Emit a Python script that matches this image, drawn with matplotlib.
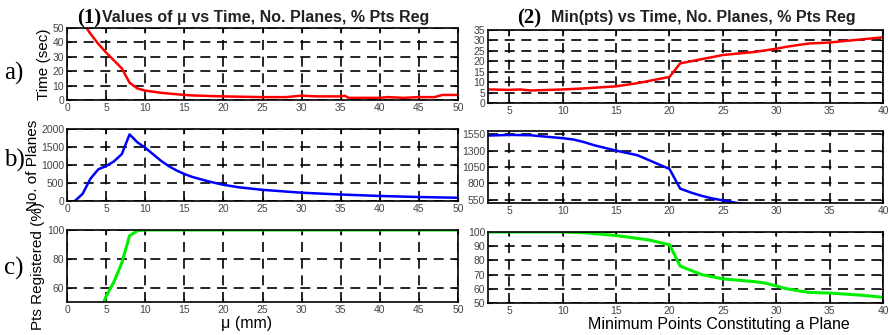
import matplotlib
matplotlib.use('Agg')
import matplotlib.pyplot as plt

plt.rcParams['font.family'] = ['Liberation Sans', 'DejaVu Sans']

# (1) mu 对比
mu = [2, 3, 4, 5, 6, 7, 8, 9, 10, 11, 12, 13, 14, 15, 16, 17, 18, 20, 22, 25, 28, 29, 30, 32, 35,
      35.5, 36, 38, 40, 41, 43, 45, 47, 48, 50]
mu_time = [54, 46, 39, 33, 27.5, 22, 12, 8, 6.5, 5.8, 5, 4.5, 4, 3.5, 3.2, 3, 2.8, 2.5, 2.3, 2, 2, 2.5, 3,
           2.5, 2.5, 3, 1.5, 1.5, 1.5, 2, 1.5, 2, 2, 3.5, 3.5]
mu_b = [1, 2, 3, 4, 5, 6, 7, 8, 9, 10, 11, 12, 13, 14, 15, 16, 17, 18, 20, 22, 25, 30, 35, 40, 45, 50]
mu_planes = [0, 200, 620, 880, 970, 1100, 1300, 1850, 1630, 1480, 1300, 1120, 970, 850, 750, 670,
             610, 550, 450, 380, 310, 230, 180, 140, 110, 90]
mu_c = [4, 5, 6, 7, 8, 9, 10, 15, 20, 30, 40, 50]
mu_reg = [40, 54, 64, 77, 96, 99.5, 100, 100, 100, 100, 100, 100]

# (2) min(pts) 对比
mp = [3, 5, 6, 7, 10, 12, 15, 17, 18, 20, 21, 22, 25, 28, 30, 31, 33, 35, 38, 40]
mp_time = [6.5, 6.3, 6.5, 6, 6.5, 7, 8, 9.5, 10.5, 12.5, 19, 20, 23, 24.5, 26, 27, 28.5, 29, 30.5, 31.5]
mp_b = [3, 5, 7, 10, 11, 12, 13, 15, 17, 20, 21, 22, 23, 24, 25, 26, 27]
mp_planes = [1530, 1540, 1535, 1490, 1470, 1430, 1380, 1300, 1230, 1020, 720, 660, 610, 570, 540,
             510, 480]
mp_c = [3, 10, 12, 15, 18, 20, 21, 23, 25, 28, 29, 30, 31, 33, 35, 38, 40]
mp_reg = [100, 100, 99.5, 97.5, 94.5, 91, 76, 70, 67, 65, 64, 62, 60, 57.5, 57, 55.5, 54]

W, H = 888, 335
fig = plt.figure(figsize=(W / 100, H / 100), dpi=100)


def box(x0, y0, x1, y1):
    return [x0 / W, 1 - y1 / H, (x1 - x0) / W, (y1 - y0) / H]


def style(ax, xlim, xt, ylim, yt):
    ax.set_xlim(xlim)
    ax.set_ylim(ylim)
    ax.set_xticks(xt)
    ax.set_yticks(yt)
    ax.grid(True, color='black', linestyle=(0, (6, 4)), linewidth=1.2)
    ax.tick_params(direction='in', length=3, top=True, right=True, labelsize=7.5,
                   labelcolor='#444444', pad=2, width=0.8)
    for s in ax.spines.values():
        s.set_linewidth(1.2)


lw = 1.8
# 左列
axa = fig.add_axes(box(67, 28, 458, 100))
axa.plot(mu, mu_time, color='red', lw=lw)
style(axa, (0, 50), range(0, 51, 5), (0, 50), range(0, 51, 10))
axa.set_ylabel('Time (sec)', fontsize=11, labelpad=1)

axb = fig.add_axes(box(67, 129, 458, 201))
axb.plot(mu_b, mu_planes, color='blue', lw=lw)
style(axb, (0, 50), range(0, 51, 5), (0, 2000), range(0, 2001, 500))
axb.set_ylabel('No. of Planes', fontsize=11, labelpad=1)

axc = fig.add_axes(box(67, 230, 458, 302))
axc.plot(mu_c, mu_reg, color='#00ee00', lw=2.2)
style(axc, (0, 50), range(0, 51, 5), (50, 100), [60, 80, 100])
axc.set_ylabel('Pts Registered (%)', fontsize=11, labelpad=1)
axc.set_xlabel('μ (mm)', fontsize=11.5, labelpad=1)
axc.xaxis.set_label_coords(0.46, -0.2)

# 右列
axd = fig.add_axes(box(488, 30, 883, 103))
axd.plot(mp, mp_time, color='red', lw=lw)
style(axd, (3, 40), range(5, 41, 5), (0, 35), range(0, 36, 5))

axe = fig.add_axes(box(488, 131, 883, 203))
axe.plot(mp_b, mp_planes, color='blue', lw=lw)
style(axe, (3, 40), range(5, 41, 5), (500, 1600), [550, 800, 1050, 1300, 1550])

axf = fig.add_axes(box(488, 232, 883, 303))
axf.plot(mp_c, mp_reg, color='#00ee00', lw=2.2)
style(axf, (3, 40), range(5, 41, 5), (50, 100), range(50, 101, 10))
axf.set_xlabel('Minimum Points Constituting a Plane', fontsize=11.5, labelpad=1)
axf.xaxis.set_label_coords(0.585, -0.2)

# 标题
fig.text(77 / W, 1 - 23 / H, '(1)', family='Liberation Serif', weight='bold', fontsize=15)
fig.text(102 / W, 1 - 22 / H, 'Values of μ vs Time, No. Planes, % Pts Reg', weight='bold',
         fontsize=11.5, color='#222222')
fig.text(517 / W, 1 - 23 / H, '(2)', family='Liberation Serif', weight='bold', fontsize=15)
fig.text(551 / W, 1 - 22 / H, 'Min(pts) vs Time, No. Planes, % Pts Reg', weight='bold',
         fontsize=11.5, color='#222222')

# 行标签
for lab, yc in [('a)', 73), ('b)', 160), ('c)', 268)]:
    fig.text(4 / W, 1 - yc / H, lab, family='Liberation Serif', fontsize=18, va='center')

fig.savefig('out.png', dpi=100)
